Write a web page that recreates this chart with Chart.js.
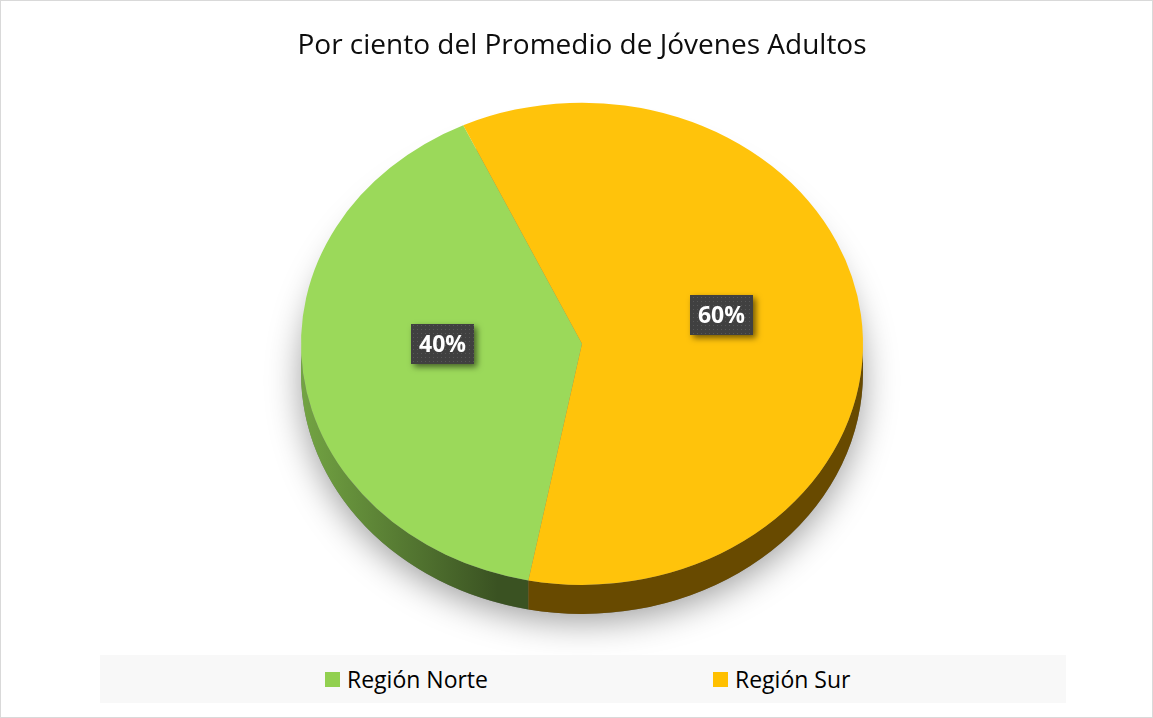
<!DOCTYPE html>
<html>
<head>
<meta charset="utf-8">
<script src="https://cdn.jsdelivr.net/npm/chart.js@4/dist/chart.umd.min.js"></script>
<style>
    html, body { margin: 0; padding: 0; background: #fff; }
    #wrap { position: relative; width: 1153px; height: 718px; }
    #chart { position: absolute; left: 0; top: 0; }
    #legend {
        position: absolute; left: 100px; top: 655px; width: 966px; height: 48px;
        background: #f8f8f8; font-family: 'Open Sans', sans-serif; font-size: 23px; color: #000;
    }
    .item { position: absolute; top: 0; height: 48px; display: flex; align-items: center; }
    .sw { width: 15px; height: 15px; margin-right: 7px; }
</style>
</head>
<body>
<div id="wrap">
    <canvas id="chart" width="1153" height="718"></canvas>
    <div id="legend"></div>
</div>
<script>
// Chart data
const regions = ['Región Norte', 'Región Sur'];
const percents = [40, 60];

const faceColors = ['#9bd95a', '#ffc30b'];
const legendColors = ['#92d050', '#ffc000'];

// look of the fake 3D pie
const tilt = 0.858;
const depth = 29;

function labelPattern(ctx) {
    const c = document.createElement('canvas');
    c.width = 4; c.height = 4;
    const p = c.getContext('2d');
    p.fillStyle = '#404040';
    p.fillRect(0, 0, 4, 4);
    p.fillStyle = '#575757';
    p.fillRect(1, 1, 1, 1);
    return ctx.createPattern(c, 'repeat');
}

// visible front part of an arc (canvas angles, front = 0..PI)
function frontPart(start, end) {
    const parts = [];
    for (const off of [-2 * Math.PI, 0, 2 * Math.PI]) {
        const a0 = Math.max(start, off), a1 = Math.min(end, off + Math.PI);
        if (a1 > a0) parts.push([a0, a1]);
    }
    return parts;
}

const pie3d = {
    id: 'pie3d',
    beforeDraw(chart) {
        const ctx = chart.ctx;
        ctx.save();
        ctx.fillStyle = '#fff';
        ctx.fillRect(0, 0, chart.width, chart.height);
        ctx.strokeStyle = '#d9d9d9';
        ctx.lineWidth = 1;
        ctx.strokeRect(0.5, 0.5, chart.width - 1, chart.height - 1);
        ctx.restore();
    },
    beforeDatasetsDraw(chart) {
        const ctx = chart.ctx;
        const arcs = chart.getDatasetMeta(0).data;
        const cx = arcs[0].x, cy = arcs[0].y, R = arcs[0].outerRadius;

        // soft shadow under the pie
        ctx.save();
        ctx.shadowColor = 'rgba(0,0,0,0.38)';
        ctx.shadowBlur = 34;
        ctx.shadowOffsetY = 8;
        ctx.fillStyle = '#777';
        ctx.beginPath();
        ctx.ellipse(cx, cy + depth, R, R * tilt, 0, 0, Math.PI * 2);
        ctx.fill();
        ctx.restore();

        // side walls
        arcs.forEach((arc, i) => {
            frontPart(arc.startAngle, arc.endAngle).forEach(([a0, a1]) => {
                ctx.save();
                ctx.beginPath();
                ctx.ellipse(cx, cy, R, R * tilt, 0, a0, a1, false);
                ctx.ellipse(cx, cy + depth, R, R * tilt, 0, a1, a0, true);
                ctx.closePath();
                if (i === 0) {
                    const g = ctx.createLinearGradient(cx - R, 0, cx - 0.3 * R, 0);
                    g.addColorStop(0, '#73a443');
                    g.addColorStop(1, '#3a5222');
                    ctx.fillStyle = g;
                } else {
                    ctx.fillStyle = '#684a00';
                }
                ctx.fill();
                ctx.restore();
            });
        });

        // squash the top face
        ctx.save();
        ctx.translate(cx, cy);
        ctx.scale(1, tilt);
        ctx.translate(-cx, -cy);
    },
    afterDatasetsDraw(chart) {
        const ctx = chart.ctx;
        ctx.restore();
        const arcs = chart.getDatasetMeta(0).data;
        const cy = arcs[0].y;
        const fill = labelPattern(ctx);
        arcs.forEach((arc, i) => {
            const p = arc.tooltipPosition();
            const x = p.x, y = cy + (p.y - cy) * tilt - 14;
            const w = 63, h = 40;
            ctx.save();
            ctx.shadowColor = 'rgba(0,0,0,0.55)';
            ctx.shadowBlur = 6;
            ctx.shadowOffsetX = 3;
            ctx.shadowOffsetY = 3;
            ctx.fillStyle = fill;
            ctx.fillRect(Math.round(x - w / 2), Math.round(y - h / 2), w, h);
            ctx.restore();
            ctx.save();
            ctx.fillStyle = '#fff';
            ctx.font = 'bold 23px "Open Sans"';
            ctx.textAlign = 'center';
            ctx.textBaseline = 'middle';
            ctx.fillText(percents[i] + '%', x, y + 1);
            ctx.restore();
        });
    }
};

new Chart(document.getElementById('chart'), {
    type: 'pie',
    data: {
        labels: regions,
        datasets: [{
            data: percents,
            backgroundColor: faceColors,
            borderWidth: 0,
            clip: false
        }]
    },
    options: {
        responsive: false,
        animation: false,
        rotation: 191,
        radius: 281,
        layout: { padding: { left: 11, right: 0, top: 0, bottom: 93 } },
        plugins: {
            legend: { display: false },
            tooltip: { enabled: false },
            title: {
                display: true,
                text: 'Por ciento del Promedio de Jóvenes Adultos',
                color: '#0d0d0d',
                font: { family: 'Open Sans', size: 28, weight: 'normal' },
                padding: { top: 29, bottom: 0 }
            }
        }
    },
    plugins: [pie3d]
});

// legend below the pie
const legendEl = document.getElementById('legend');
const legendLeft = [225, 613];
regions.forEach((name, i) => {
    const item = document.createElement('div');
    item.className = 'item';
    item.style.left = legendLeft[i] + 'px';
    item.innerHTML = `<span class="sw" style="background:${legendColors[i]}"></span><span>${name}</span>`;
    legendEl.appendChild(item);
});
</script>
</body>
</html>
